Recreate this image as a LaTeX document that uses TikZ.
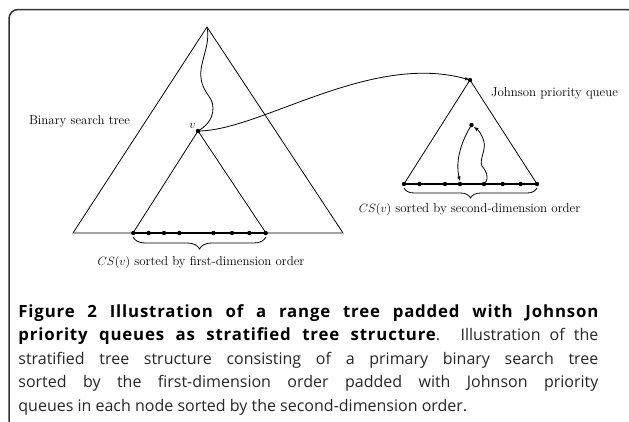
\documentclass[tikz,border=0pt]{standalone}
\usepackage{fontspec}
\newfontfamily\capfont{Open Sans}
\newfontfamily\capbold{Open Sans}[LetterSpace=5]
\newcommand{\bsp}[1]{{\fontsize{16.8}{20}\capbold\bfseries\color{black}#1}}
\usetikzlibrary{decorations.pathreplacing,arrows.meta}
\begin{document}
\begin{tikzpicture}[x=1pt,y=-1pt, line width=0.8pt,
  dot/.style={circle,fill,inner sep=0pt,minimum size=4.4pt},
  lbl/.style={font=\fontsize{12.9}{15}\selectfont, inner sep=0pt},
  arr/.style={-{Latex[length=5pt,width=3.5pt]}},
  brc/.style={decorate,decoration={brace,mirror,amplitude=#1}},
  capline/.style={anchor=base west, inner sep=0pt, font=\fontsize{16}{20}\capfont, text=black!85}]
\useasboundingbox (0,0) rectangle (629,421);
\begin{scope}
  \clip (0,0) rectangle (629,421);
  \draw[line width=1.5pt, draw=black!80, rounded corners=9pt] (9,9.5) rectangle (636,429);
\end{scope}
% big triangle
\coordinate (A) at (207,27);
\coordinate (BL) at (73,233);
\coordinate (BR) at (343,233);
\draw (BL) -- (A) -- (BR) -- cycle;
% inner triangle
\coordinate (IL) at (133,233);
\coordinate (IR) at (266,233);
\node[dot] (v) at (198,131) {};
\draw (IL) -- (v.center) -- (IR);
\draw[line width=1.1pt] (IL) -- (IR);
\foreach \x [count=\i] in {133.3,148.7,164,179.3,213.3,232,249.3,265.7}
  \node[dot] (a\i) at (\x,233) {};
\node[lbl, anchor=south east] (vl) at (196,129) {$v$};
% wavy path
\coordinate (P1) at (201,78);
\coordinate (P2) at (213,108);
\draw (A) .. controls (211,45) and (199,62) .. (P1)
          .. controls (203,94) and (213,96) .. (P2)
          .. controls (213,120) and (205,127) .. (v.center);
% Johnson triangle
\node[dot] (J) at (470,80) {};
\coordinate (JL) at (404,184);
\coordinate (JR) at (537,184);
\draw (JL) -- (J.center) -- (JR) -- cycle;
\draw[line width=1.1pt] (JL) -- (JR);
\foreach \x [count=\i] in {404,419.3,445,460,484,502.7,520.7,537}
  \node[dot] (b\i) at (\x,184) {};
\node[dot] (Q) at (471.5,125) {};
% arrow v -> J
\draw[arr] (v.center) .. controls (260,131) and (370,52) .. (J.center);
% inner arrows
\draw[arr] (Q.center) .. controls (462,140) and (455,160) .. (b4.north);
\coordinate (R1) at (482,166);
\coordinate (R2) at (484,142);
\draw[arr] (b5.center) .. controls (491,177) and (485,170) .. (R1)
           .. controls (479,160) and (486,150) .. (R2)
           .. controls (482,134) and (478,130) .. (Q);
% braces
\draw[brc=12pt] (133,237) -- (266,237);
\draw[brc=10pt] (404,188) -- (537,188);
% labels
\node[lbl] (bst) at (79.5,121) {Binary search tree};
\node[lbl] (jpq) at (554.5,93) {Johnson priority queue};
\node[lbl] (cs1) at (201,262) {$CS(v)$ sorted by first-dimension order};
\node[lbl] (cs2) at (469.5,209) {$CS(v)$ sorted by second-dimension order};
% caption
\node[capline] (c1) at (18,317) {\makebox[580pt][s]{\bsp{Figure 2 Illustration of a range tree padded with Johnson}}};
\node[capline] (c2) at (18,340.5) {\makebox[580pt][s]{\bsp{priority queues as stratified tree structure}. Illustration of the}};
\node[capline] (c3) at (18,364) {\makebox[580pt][s]{stratified tree structure consisting of a primary binary search tree}};
\node[capline] (c4) at (18,387.5) {\makebox[580pt][s]{sorted by the first-dimension order padded with Johnson priority}};
\node[capline] (c5) at (18,411) {queues in each node sorted by the second-dimension order.};
\end{tikzpicture}
\end{document}
